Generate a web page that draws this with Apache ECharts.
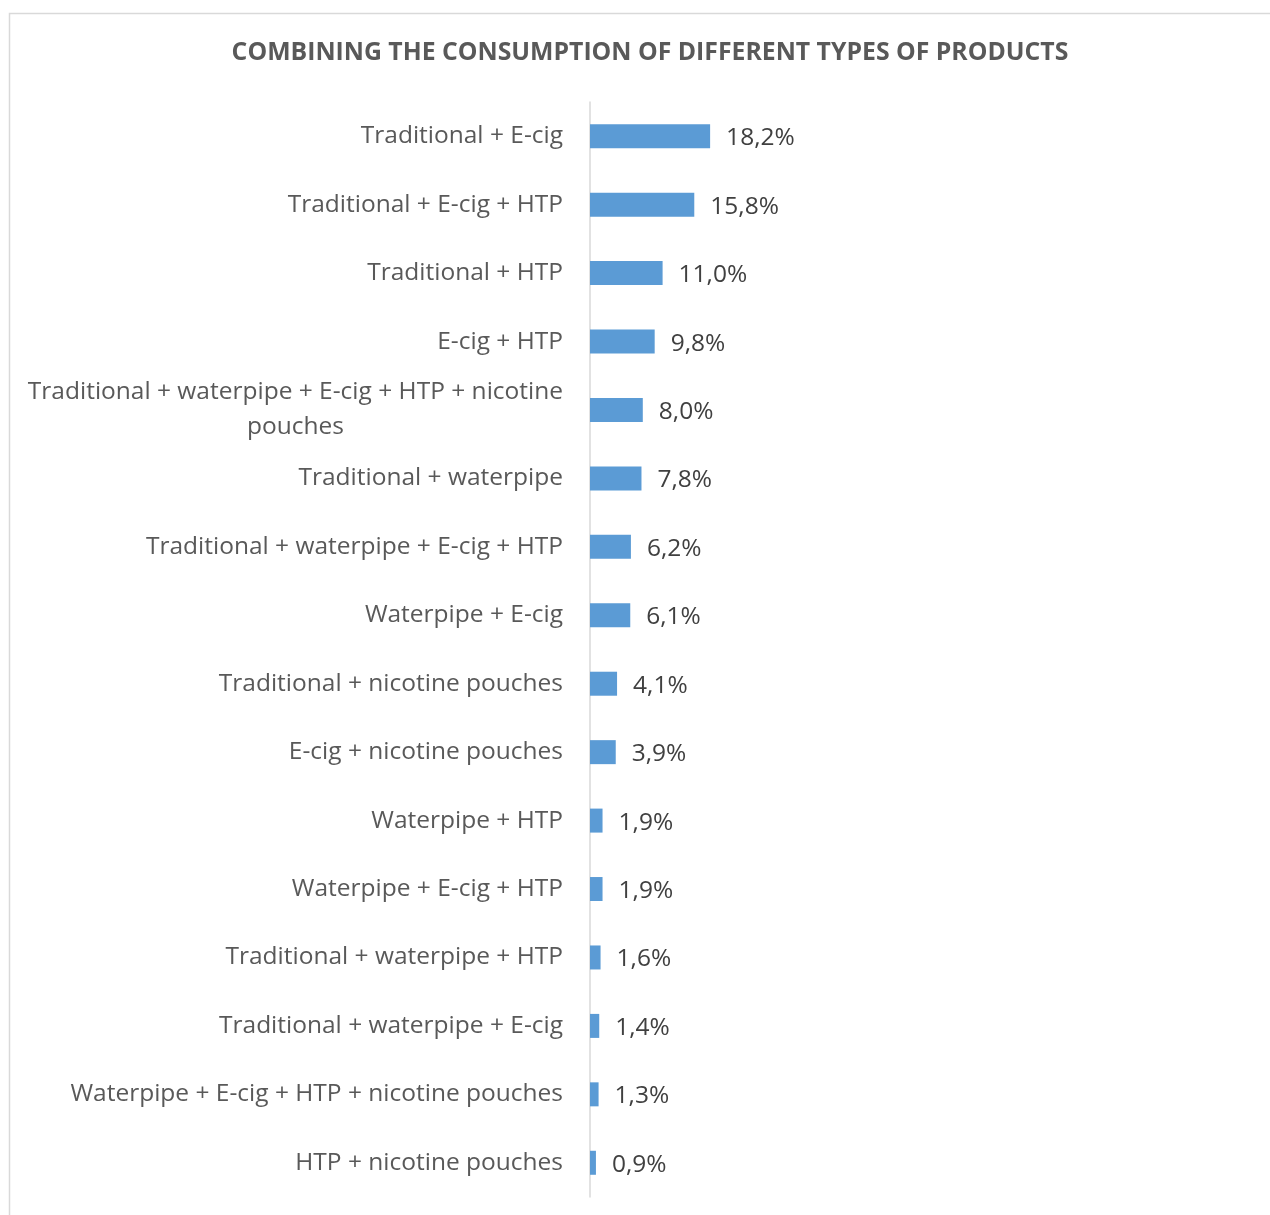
<!DOCTYPE html>
<html>
<head>
<meta charset="utf-8">
<script src="https://cdn.jsdelivr.net/npm/echarts@6/dist/echarts.min.js"></script>
<style>
  html, body { margin: 0; padding: 0; background: #ffffff; }
  #chart { width: 1270px; height: 1215px; }
</style>
</head>
<body>
<div id="chart"></div>
<script>
// Product combinations, listed from most to least common
const categories = [
  'Traditional + E-cig',
  'Traditional + E-cig + HTP',
  'Traditional + HTP',
  'E-cig + HTP',
  'Traditional + waterpipe + E-cig + HTP + nicotine\npouches',
  'Traditional + waterpipe',
  'Traditional + waterpipe + E-cig + HTP',
  'Waterpipe + E-cig',
  'Traditional + nicotine pouches',
  'E-cig + nicotine pouches',
  'Waterpipe + HTP',
  'Waterpipe + E-cig + HTP',
  'Traditional + waterpipe + HTP',
  'Traditional + waterpipe + E-cig',
  'Waterpipe + E-cig + HTP + nicotine pouches',
  'HTP + nicotine pouches'
];

// Share of respondents (%)
const shares = [18.2, 15.8, 11.0, 9.8, 8.0, 7.8, 6.2, 6.1, 4.1, 3.9, 1.9, 1.9, 1.6, 1.4, 1.3, 0.9];

const fontFamily = '"Open Sans", "Noto Sans", sans-serif';
const chart = echarts.init(document.getElementById('chart'), null, { renderer: 'canvas' });

chart.setOption({
  backgroundColor: '#ffffff',
  animation: false,
  graphic: [{
    type: 'rect',
    shape: { x: 9.5, y: 13.5, width: 1300, height: 1300 },
    style: { fill: 'none', stroke: '#d9d9d9', lineWidth: 1.5 },
    z: -1,
    silent: true
  }],
  title: {
    text: 'COMBINING THE CONSUMPTION OF DIFFERENT TYPES OF PRODUCTS',
    left: 645,
    top: 35,
    textAlign: 'center',
    textStyle: { fontFamily, fontSize: 24.8, fontWeight: 'bold', color: '#595959' }
  },
  grid: { left: 590, right: 20, top: 102, bottom: 18, containLabel: false },
  xAxis: {
    type: 'value',
    min: 0,
    max: 100,
    show: false
  },
  yAxis: {
    type: 'category',
    inverse: true,
    data: categories,
    axisLine: { show: true, lineStyle: { color: '#d9d9d9', width: 1.5 } },
    axisTick: { show: false },
    splitLine: { show: false },
    axisLabel: {
      margin: 27,
      formatter: (v) => v.split('\n').map(s => '{c|' + s + '}').join('\n'),
      rich: {
        c: { fontFamily, fontSize: 24.5, color: '#595959', align: 'center', lineHeight: 35 }
      }
    }
  },
  series: [{
    type: 'bar',
    data: shares,
    barWidth: 24,
    itemStyle: { color: '#5b9bd5' },
    label: {
      show: true,
      position: 'right',
      distance: 16,
      fontFamily,
      fontSize: 24.5,
      color: '#404040',
      offset: [0, 2],
      formatter: (p) => p.value.toFixed(1).replace('.', ',') + '%'
    }
  }]
});
</script>
</body>
</html>
